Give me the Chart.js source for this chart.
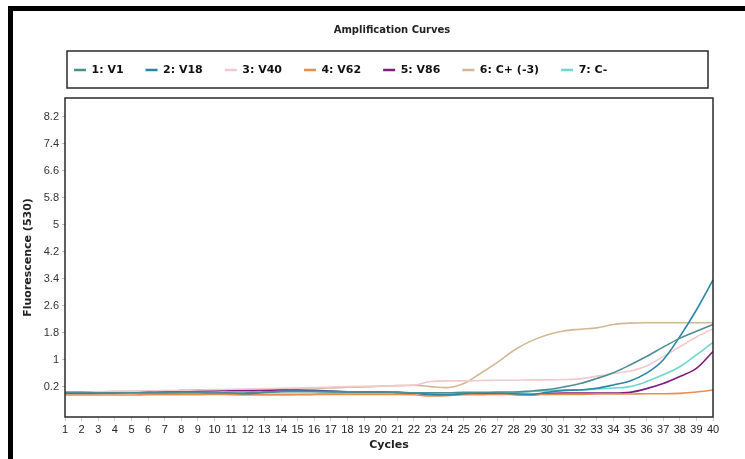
<!DOCTYPE html>
<html>
<head>
<meta charset="utf-8">
<script src="https://cdn.jsdelivr.net/npm/chart.js@4"></script>
<style>
  html, body { margin: 0; padding: 0; background: #fff; }
  #wrap { width: 745px; height: 459px; }
</style>
</head>
<body>
<div id="wrap"><canvas id="amp"></canvas></div>
<script>
const cycles = [1, 2, 3, 4, 5, 6, 7, 8, 9, 10, 11, 12, 13, 14, 15, 16, 17, 18, 19, 20,
  21, 22, 23, 24, 25, 26, 27, 28, 29, 30, 31, 32, 33, 34, 35, 36, 37, 38, 39, 40];

const yTicks = [0.2, 1, 1.8, 2.6, 3.4, 4.2, 5, 5.8, 6.6, 7.4, 8.2];

const sampleNames = ['1: V1', '2: V18', '3: V40', '4: V62', '5: V86', '6: C+ (-3)', '7: C-'];
const sampleColors = ['#4e8f94', '#2a86a8', '#f2c9cc', '#e88d4f', '#7c1e80', '#d4b895', '#6fd6cf'];

const v1 = [0.04, 0.04, 0.03, 0.03, 0.03, 0.02, 0.02, 0.03, 0.03, 0.02, 0.02, 0.03, 0.05, 0.06, 0.06, 0.06, 0.05, 0.05, 0.05, 0.05,
  0.04, 0.03, 0.03, 0.03, 0.04, 0.04, 0.05, 0.05, 0.08, 0.12, 0.2, 0.3, 0.45, 0.62, 0.85, 1.1, 1.38, 1.64, 1.85, 2.05];
const v18 = [0.02, 0.02, 0.02, 0.03, 0.03, 0.04, 0.05, 0.06, 0.06, 0.05, 0.02, 0.0, 0.04, 0.07, 0.08, 0.08, 0.07, 0.06, 0.05, 0.05,
  0.04, 0.02, -0.02, -0.03, 0.0, 0.02, 0.02, 0.0, -0.02, 0.04, 0.1, 0.11, 0.16, 0.26, 0.38, 0.61, 1.0, 1.69, 2.48, 3.37];
const v40 = [0.05, 0.05, 0.06, 0.06, 0.07, 0.08, 0.09, 0.1, 0.11, 0.12, 0.13, 0.14, 0.15, 0.16, 0.17, 0.18, 0.2, 0.21, 0.22, 0.23,
  0.24, 0.25, 0.36, 0.38, 0.38, 0.39, 0.4, 0.4, 0.41, 0.41, 0.42, 0.44, 0.52, 0.6, 0.67, 0.82, 1.1, 1.39, 1.68, 1.92];
const v62 = [-0.04, -0.04, -0.04, -0.04, -0.04, -0.03, -0.03, -0.03, -0.03, -0.02, -0.02, -0.02, -0.02, -0.02, -0.02, -0.02, -0.02, -0.02, -0.02, -0.02,
  -0.02, -0.03, -0.07, -0.06, -0.03, -0.03, -0.02, -0.02, -0.02, -0.02, -0.02, -0.02, -0.01, -0.01, -0.01, 0.0, 0.0, 0.01, 0.05, 0.11];
const v86 = [0.01, 0.01, 0.01, 0.02, 0.05, 0.06, 0.07, 0.09, 0.1, 0.1, 0.09, 0.09, 0.1, 0.11, 0.11, 0.1, 0.08, 0.06, 0.05, 0.05,
  0.04, 0.02, -0.03, -0.04, -0.01, 0.0, 0.0, -0.02, -0.03, 0.0, 0.02, 0.02, 0.02, 0.02, 0.04, 0.15, 0.3, 0.51, 0.75, 1.25];
const cPos = [0.06, 0.06, 0.06, 0.07, 0.07, 0.08, 0.08, 0.09, 0.1, 0.1, 0.11, 0.12, 0.13, 0.14, 0.15, 0.16, 0.17, 0.19, 0.2, 0.22,
  0.24, 0.25, 0.21, 0.18, 0.3, 0.6, 0.92, 1.28, 1.55, 1.74, 1.86, 1.91, 1.95, 2.05, 2.09, 2.1, 2.1, 2.1, 2.1, 2.1];
const cNeg = [0.04, 0.04, 0.03, 0.03, 0.02, 0.02, 0.01, 0.01, 0.01, 0.0, -0.03, -0.04, -0.04, -0.04, -0.03, -0.02, 0.01, 0.02, 0.02, 0.02,
  0.02, 0.02, 0.02, 0.02, 0.02, 0.02, 0.02, 0.03, 0.06, 0.09, 0.1, 0.11, 0.14, 0.17, 0.21, 0.36, 0.56, 0.8, 1.15, 1.52];

const series = [v1, v18, v40, v62, v86, cPos, cNeg];

const LEG_PAD = 22;

// black frame, legend box and plot box
const framePlugin = {
  id: 'frame',
  beforeDraw(chart) {
    const lg = chart.legend;
    lg.left = 74 - LEG_PAD;
    lg.top = 70 - LEG_PAD - 5.5;
    // title sits a bit right of centre in the original
    const tb = chart.titleBlock;
    tb.left = 42;
    tb.right = 742;
  },
  afterDraw(chart) {
    const ctx = chart.ctx;
    const a = chart.chartArea;
    ctx.save();
    ctx.fillStyle = '#000';
    ctx.fillRect(8, 6, 737, 5);
    ctx.fillRect(8, 6, 5, 453);
    ctx.strokeStyle = '#2a2a2a';
    ctx.lineWidth = 1.5;
    ctx.strokeRect(67, 51, 641, 37);
    ctx.strokeRect(a.left, a.top, a.right - a.left, a.bottom - a.top);
    ctx.restore();
  }
};

new Chart(document.getElementById('amp'), {
  type: 'line',
  data: {
    labels: cycles,
    datasets: series.map((vals, i) => ({
      label: sampleNames[i],
      data: vals,
      borderColor: sampleColors[i],
      backgroundColor: sampleColors[i],
      borderWidth: 1.6,
      pointRadius: 0,
      cubicInterpolationMode: 'monotone',
      fill: false
    }))
  },
  options: {
    responsive: true,
    maintainAspectRatio: false,
    animation: false,
    layout: { padding: { top: 0, left: 13, right: 32, bottom: 0 } },
    plugins: {
      title: {
        display: true,
        text: 'Amplification Curves',
        color: '#222',
        font: { family: 'DejaVu Sans', size: 10, weight: 'bold' },
        padding: { top: 24, bottom: 19 }
      },
      legend: {
        display: true,
        align: 'start',
        labels: {
          usePointStyle: true,
          pointStyle: 'line',
          pointStyleWidth: 12,
          padding: LEG_PAD,
          color: '#111',
          font: { family: 'DejaVu Sans', size: 11, weight: 'bold' },
          generateLabels(chart) {
            const items = Chart.defaults.plugins.legend.labels.generateLabels(chart);
            items.forEach(it => { it.lineWidth = 2.4; });
            return items;
          }
        }
      },
      tooltip: { enabled: false }
    },
    scales: {
      x: {
        grid: { display: true, drawOnChartArea: false, tickLength: 4, color: '#ccc' },
        border: { display: false },
        ticks: {
          autoSkip: false, maxRotation: 0, padding: 2, color: '#222',
          font: { family: 'Liberation Sans', size: 11 }
        },
        title: {
          display: true, text: 'Cycles', color: '#222',
          font: { family: 'DejaVu Sans', size: 11, weight: 'bold' },
          padding: { top: 2, bottom: 7 }
        },
        afterFit(scale) { scale.height = 42; }
      },
      y: {
        min: -0.69,
        max: 8.76,
        afterBuildTicks(scale) { scale.ticks = yTicks.map(v => ({ value: v })); },
        grid: { display: true, drawOnChartArea: false, tickLength: 3, color: '#bbb' },
        border: { display: false },
        ticks: {
          padding: 3, color: '#333',
          font: { family: 'Liberation Sans', size: 11 },
          callback: v => String(+Number(v).toFixed(1))
        },
        title: {
          display: true, text: 'Fluorescence (530)', color: '#222',
          font: { family: 'DejaVu Sans', size: 11, weight: 'bold' },
          padding: { top: 9, bottom: 0 }
        },
        afterFit(scale) { scale.width = 52; }
      }
    }
  },
  plugins: [framePlugin]
});
</script>
</body>
</html>
